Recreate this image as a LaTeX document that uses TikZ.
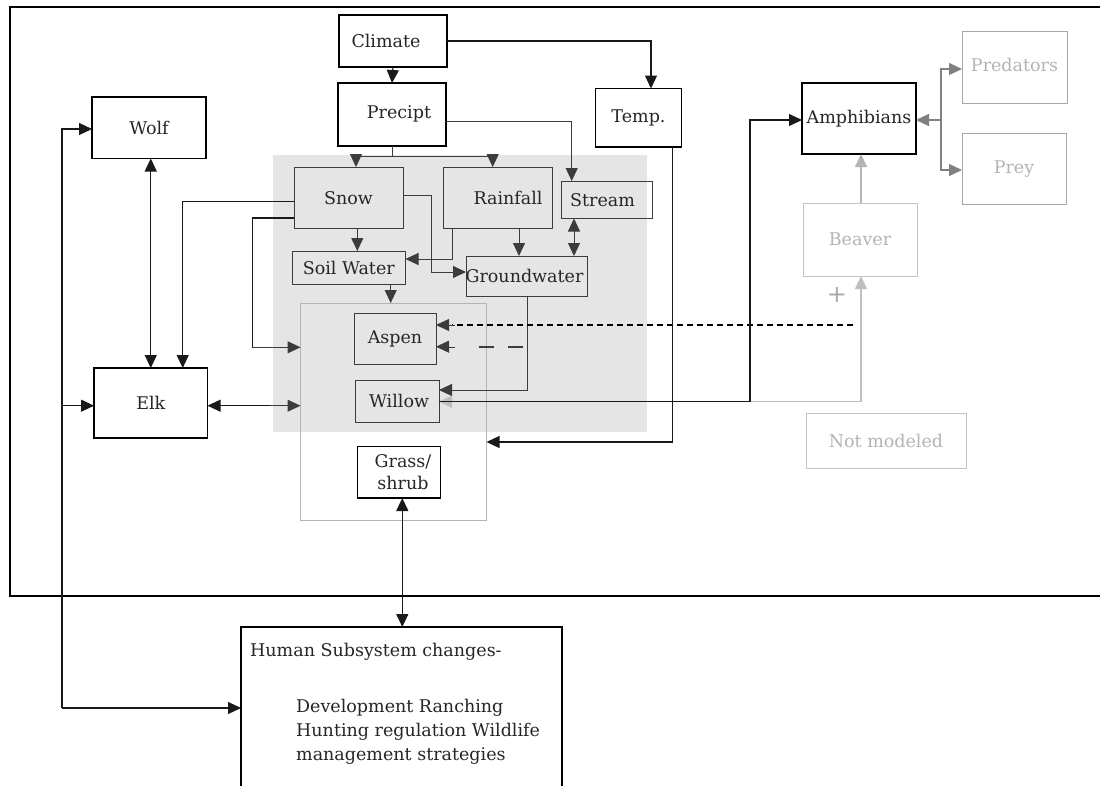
\documentclass[tikz,border=0pt]{standalone}
\usepackage{fontspec}
\setmainfont{DejaVu Serif}
\usetikzlibrary{arrows.meta}
\definecolor{lgrey}{HTML}{B4B4B4}
\definecolor{mgrey}{HTML}{808080}
\definecolor{fgrey}{HTML}{A8A8A8}
\definecolor{dgrey}{HTML}{3C3C3C}
\begin{document}
\begin{tikzpicture}[x=1pt,y=-1pt,
  box/.style={draw, line width=1.2pt, inner sep=0pt, outer sep=0pt, anchor=north west,
    font=\fontsize{17.5}{22}\selectfont, text=black!85},
  ibox/.style={box, draw=dgrey, line width=1pt},
  gbox/.style={box, draw=fgrey, line width=1pt, text=lgrey},
  lbox/.style={box, draw=lgrey!80, line width=1pt, text=lgrey},
  ln/.style={line width=1.2pt, black!90},
  il/.style={line width=1pt, dgrey},
  tip/.style={-{Triangle[length=13pt,width=12pt]}},
  tips/.style={{Triangle[length=13pt,width=12pt]}-{Triangle[length=13pt,width=12pt]}},
  txt/.style={font=\fontsize{17.5}{22}\selectfont, text=black!85, inner sep=0pt, anchor=west}
]
\useasboundingbox (0,0) rectangle (1100,785);
\fill[white] (0,0) rectangle (1100,785);
% shaded region
\fill[black!10] (273,155) rectangle (647,432);
% outer frame
\draw[line width=1.2pt] (1100,7) -- (10,7) -- (10,596) -- (1100,596);

% nodes
\node[box, minimum width=108pt, minimum height=52pt] (climate) at (339,15) {\hspace*{-14pt}Climate};
\node[box, minimum width=108pt, minimum height=63pt] (precipt) at (338,83) {\hspace*{14pt}\raisebox{4pt}{Precipt}};
\node[box, minimum width=86pt, minimum height=58.5pt] (temp) at (595.5,88.5) {\raisebox{2pt}{Temp.}};
\node[box, minimum width=114pt, minimum height=61.5pt] (wolf) at (92,97) {\raisebox{-2pt}{Wolf}};
\node[box, minimum width=113.5pt, minimum height=70pt] (elk) at (94,368) {Elk};
\node[ibox, minimum width=109pt, minimum height=61.5pt] (snow) at (294,167) {Snow};
\node[ibox, minimum width=109pt, minimum height=61.5pt] (rain) at (443.5,167) {\hspace*{20pt}Rainfall};
\node[ibox, minimum width=91pt, minimum height=37.5pt] (stream) at (561,181) {\hspace*{-8pt}Stream};
\node[ibox, minimum width=113.5pt, minimum height=33pt] (soil) at (292,251) {Soil Water};
\node[ibox, minimum width=121pt, minimum height=40pt] (ground) at (466,256) {\hspace*{-4pt}Groundwater};
\node[box, draw=lgrey, line width=1pt, minimum width=186pt, minimum height=217pt] (veg) at (300.5,303) {};
\node[ibox, minimum width=82pt, minimum height=51pt] (aspen) at (354,313) {\raisebox{2pt}{Aspen}};
\node[ibox, minimum width=84pt, minimum height=42pt] (willow) at (355,380) {\hspace*{4pt}Willow};
\node[box, minimum width=83pt, minimum height=51.5pt, align=center] (grass) at (357.5,446.5) {\hspace*{8pt}Grass/\\\hspace*{8pt}shrub};
\node[box, minimum width=114pt, minimum height=71pt] (amph) at (802,83) {\raisebox{-3pt}{Amphibians}};
\node[gbox, minimum width=105pt, minimum height=72pt] (pred) at (962,31) {\raisebox{5pt}{Predators}};
\node[gbox, minimum width=104pt, minimum height=71pt] (prey) at (962,133.5) {\raisebox{-2pt}{Prey}};
\node[lbox, minimum width=114pt, minimum height=73pt] (beaver) at (803,203) {Beaver};
\node[lbox, minimum width=160pt, minimum height=55pt] (notm) at (806,413) {Not modeled};
\node[box, minimum width=321pt, minimum height=200pt] (human) at (241,627) {};
\node[txt] (h1) at (250,651.5) {Human Subsystem changes-};
\node[txt] (h2) at (296,708) {Development Ranching};
\node[txt] (h3) at (296,732) {Hunting regulation Wildlife};
\node[txt] (h4) at (296,755.5) {management strategies};
\node[font=\fontsize{24}{24}\selectfont, text=fgrey, inner sep=0pt] (plus) at (837,295) {+};

% connectors: climate / precip / temp
\draw[ln,tip] (climate.south) -- (precipt.north);
\draw[ln,tip] (climate.east) -| (temp.north -| 651,0);
\coordinate (pj) at (392,156);
\draw[il,tip] (precipt.south) -- (pj) -| (snow.north -| 356,0);
\draw[il,tip] (pj) -| (rain.north -| 492.7,0);
\draw[il,tip] (precipt.east |- 0,121.7) -| (stream.north -| 571.7,0);

% snow to elk and vegetation
\draw[ln,tip] (snow.west |- 0,201.7) -| (elk.north -| 182.7,0);
\coordinate (s2) at (252.3,347.3);
\draw[ln] (snow.west |- 0,218) -| (s2);
\draw[il,tip] (s2) -- (veg.west |- s2);

% wolf / elk
\draw[ln,tips] (elk.north |- wolf.south) -- (elk.north);
\coordinate (L1) at (62,129);
\coordinate (L2) at (62,405.7);
\coordinate (L3) at (62,708);
\draw[ln,tip] (L3) -- (L1) -- (wolf.west |- L1);
\draw[ln,tip] (L2) -- (elk.west |- L2);
\draw[ln,tip] (L3) -- (human.west |- L3);
\coordinate (e1) at (207.5,405.7);
\draw[ln,{Triangle[length=13pt,width=12pt]}-] (e1) -- (270,405.7);
\draw[il,tip] (270,405.7) -- (veg.west |- e1);

% water flows
\draw[il,tip] (snow.south -| 357.3,0) -- (soil.north -| 357.3,0);
\draw[il,tip] (snow.east |- 0,195) -| (431.7,272) -- (ground.west |- 0,272);
\draw[il,tip] (rain.south -| 452,0) |- (soil.east |- 0,259);
\draw[il,tip] (rain.south -| 519,0) -- (ground.north -| 519,0);
\draw[il,tips] (stream.south -| 574,0) -- (ground.north -| 574,0);
\draw[il,tip] (soil.south -| 390.7,0) -- (veg.north -| 390.7,0);
\draw[il,tip] (ground.south -| 527,0) |- (willow.east |- 0,390);

% dotted and dashed to aspen
\coordinate (d1) at (853,325);
\draw[line width=2.4pt, dash pattern=on 6pt off 4pt] (d1) -- (452,325);
\draw[dgrey,tip] (455,325) -- (aspen.east |- d1);
\coordinate (d2) at (523,346.7);
\draw[line width=2pt, dgrey, dash pattern=on 15pt off 14pt] (d2) -- (470,346.7);
\draw[dgrey,tip] (455,346.7) -- (aspen.east |- d2);

% beaver loop (grey) and willow to amphibians (black)
\draw[line width=1.2pt, lgrey!85, tips] (willow.east |- 0,401.7) -- (861,401.7) -- (beaver.south -| 861,0);
\draw[ln] (452,401.7) -- (750,401.7);
\draw[ln,tip] (750,401.7) |- (amph.west |- 0,120);
\draw[ln] (willow.east |- 0,401.7) -- (452,401.7);

% temp to vegetation
\draw[ln,tip] (temp.south -| 672.7,0) |- (veg.east |- 0,442);

% beaver to amphibians
\draw[line width=1.2pt, lgrey, tip] (beaver.north -| 861,0) -- (amph.south -| 861,0);

% amphibians, predators, prey
\coordinate (pp) at (941,120);
\draw[line width=1.2pt, mgrey, tip] (pp) -- (amph.east |- pp);
\draw[line width=1.2pt, mgrey, tip] (pp) |- (pred.west |- 0,69);
\draw[line width=1.2pt, mgrey, tip] (pp) |- (prey.west |- 0,170);

% grass to human
\draw[ln,tips] (grass.south -| 402.3,0) -- (human.north -| 402.3,0);
\end{tikzpicture}
\end{document}
